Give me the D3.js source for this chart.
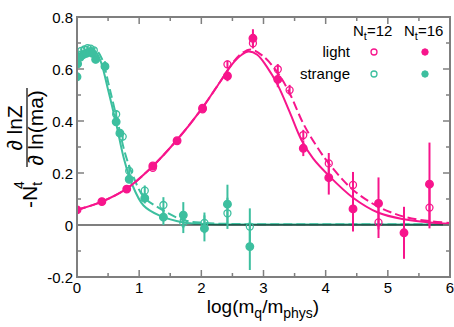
<!DOCTYPE html>
<html>
<head>
<meta charset="utf-8">
<script src="https://cdnjs.cloudflare.com/ajax/libs/d3/7.8.5/d3.min.js"></script>
<style>
body { margin: 0; background: #fff; }
text { font-family: "Liberation Sans", Arial, sans-serif; }
</style>
</head>
<body>
<div id="chart"></div>
<script>
var width = 454;
var height = 327;

var pink = "#f7158c";
var teal = "#3dbf9f";

// light quark, Nt=16 (filled)
var light16X = [0, 0.4, 0.8, 1.22, 1.61, 2.02, 2.42, 2.83, 3.23, 3.64, 4.05, 4.44, 4.85, 5.26, 5.67];
var light16Y = [0.058, 0.09, 0.138, 0.227, 0.324, 0.449, 0.573, 0.718, 0.56, 0.295, 0.182, 0.062, 0.083, -0.03, 0.157];
var light16E = [0.004, 0.004, 0.006, 0.008, 0.008, 0.01, 0.02, 0.035, 0.03, 0.03, 0.065, 0.087, 0.1, 0.1, 0.16];

// light quark, Nt=12 (open)
var light12X = [1.22, 2.02, 2.42, 2.83, 3.23, 3.42, 3.64, 4.05, 4.44, 4.85, 5.67];
var light12Y = [0.22, 0.445, 0.618, 0.699, 0.599, 0.519, 0.346, 0.237, 0.154, 0.01, 0.067];
var light12E = [0.008, 0.01, 0.015, 0.02, 0.02, 0.02, 0.02, 0.04, 0.05, 0.06, 0.08];

// strange quark, Nt=16 (filled)
var strange16X = [0, 0.01, 0.05, 0.1, 0.15, 0.2, 0.25, 0.3, 0.45, 0.63, 0.69, 0.84, 1.09, 1.39, 1.71, 2.05, 2.42, 2.78];
var strange16Y = [0.57, 0.62, 0.645, 0.655, 0.66, 0.665, 0.66, 0.637, 0.61, 0.397, 0.353, 0.176, 0.103, 0.03, 0.038, -0.013, 0.08, -0.083];
var strange16E = [0.015, 0.015, 0.01, 0.01, 0.01, 0.01, 0.01, 0.015, 0.02, 0.015, 0.015, 0.015, 0.02, 0.03, 0.05, 0.05, 0.075, 0.09];

// strange quark, Nt=12 (open)
var strange12X = [0.02, 0.07, 0.12, 0.17, 0.22, 0.27, 0.63, 0.735, 0.84, 1.09, 1.39, 1.71, 2.05, 2.42, 2.78];
var strange12Y = [0.655, 0.67, 0.675, 0.68, 0.678, 0.672, 0.426, 0.34, 0.208, 0.132, 0.077, 0.009, 0.008, 0.045, -0.006];
var strange12E = [0.01, 0.01, 0.01, 0.01, 0.01, 0.01, 0.015, 0.015, 0.02, 0.02, 0.03, 0.04, 0.04, 0.06, 0.07];

// fit curves
var lightFit16X = [0, 0.4, 0.8, 1.2, 1.6, 2.0, 2.3, 2.5, 2.65, 2.76, 2.9, 3.05, 3.23, 3.42, 3.61, 3.8, 4.05, 4.44, 4.85, 5.26, 5.67, 6];
var lightFit16Y = [0.058, 0.09, 0.14, 0.222, 0.325, 0.445, 0.55, 0.62, 0.655, 0.667, 0.655, 0.61, 0.538, 0.435, 0.327, 0.255, 0.19, 0.105, 0.047, 0.022, 0.01, 0.005];
var lightFit12X = [0, 0.4, 0.8, 1.2, 1.6, 2.0, 2.3, 2.5, 2.65, 2.8, 3.0, 3.23, 3.42, 3.64, 3.85, 4.05, 4.44, 4.85, 5.26, 5.67, 6];
var lightFit12Y = [0.058, 0.09, 0.14, 0.222, 0.325, 0.445, 0.55, 0.622, 0.66, 0.675, 0.648, 0.585, 0.507, 0.39, 0.305, 0.237, 0.135, 0.07, 0.032, 0.015, 0.008];
var strangeFit16X = [0, 0.1, 0.2, 0.3, 0.38, 0.5, 0.63, 0.75, 0.88, 1.07, 1.33, 1.71, 2.05, 2.5, 3, 6];
var strangeFit16Y = [0.635, 0.66, 0.672, 0.665, 0.63, 0.52, 0.39, 0.26, 0.16, 0.075, 0.036, 0.01, 0.004, 0.002, 0.002, 0.002];
var strangeFit12X = [0, 0.1, 0.2, 0.3, 0.4, 0.52, 0.65, 0.78, 0.9, 1.07, 1.33, 1.71, 2.05, 2.5, 3, 6];
var strangeFit12Y = [0.645, 0.67, 0.68, 0.675, 0.64, 0.53, 0.4, 0.27, 0.19, 0.109, 0.064, 0.019, 0.008, 0.004, 0.003, 0.003];

var xTicks = [0, 1, 2, 3, 4, 5, 6];
var yTicks = [-0.2, 0, 0.2, 0.4, 0.6, 0.8];
var yTickLabels = ["-0.2", "0", "0.2", "0.4", "0.6", "0.8"];

var x = d3.scaleLinear().domain([0, 6]).range([77, 450]);
var y = d3.scaleLinear().domain([-0.2, 0.8]).range([277, 17]);

var svg = d3.select("#chart").append("svg")
	.attr("width", width)
	.attr("height", height);

svg.append("defs").append("clipPath").attr("id", "clip")
	.append("rect")
	.attr("x", 77).attr("y", 17)
	.attr("width", 373).attr("height", 260);

function zip(xs, ys) {
	return xs.map(function(v, i) { return [v, ys[i]]; });
}

var line = d3.line()
	.x(function(d) { return x(d[0]); })
	.y(function(d) { return y(d[1]); })
	.curve(d3.curveCatmullRom);

var plot = svg.append("g").attr("clip-path", "url(#clip)");

function drawFit(xs, ys, colour, dashed) {
	plot.append("path")
		.datum(zip(xs, ys))
		.attr("d", line)
		.attr("fill", "none")
		.attr("stroke", colour)
		.attr("stroke-width", 2)
		.attr("stroke-dasharray", dashed ? "9,4" : null);
}

drawFit(strangeFit16X, strangeFit16Y, teal, false);
drawFit(strangeFit12X, strangeFit12Y, teal, true);
drawFit(lightFit16X, lightFit16Y, pink, false);
drawFit(lightFit12X, lightFit12Y, pink, true);

// zero line
plot.append("line")
	.attr("x1", x(0)).attr("x2", x(6))
	.attr("y1", y(0)).attr("y2", y(0))
	.attr("stroke", "#000")
	.attr("stroke-width", 1.2);

function drawPoints(xs, ys, es, colour, filled) {
	var data = xs.map(function(v, i) { return {x: v, y: ys[i], e: es[i]}; });
	var g = plot.append("g");
	g.selectAll("line")
		.data(data)
		.enter().append("line")
		.attr("x1", function(d) { return x(d.x); })
		.attr("x2", function(d) { return x(d.x); })
		.attr("y1", function(d) { return y(d.y - d.e); })
		.attr("y2", function(d) { return y(d.y + d.e); })
		.attr("stroke", colour)
		.attr("stroke-width", 2);
	g.selectAll("circle")
		.data(data)
		.enter().append("circle")
		.attr("cx", function(d) { return x(d.x); })
		.attr("cy", function(d) { return y(d.y); })
		.attr("r", filled ? 3.8 : 3.5)
		.attr("fill", filled ? colour : "none")
		.attr("stroke", colour)
		.attr("stroke-width", 1.3);
}

drawPoints(strange12X, strange12Y, strange12E, teal, false);
drawPoints(strange16X, strange16Y, strange16E, teal, true);
drawPoints(light12X, light12Y, light12E, pink, false);
drawPoints(light16X, light16Y, light16E, pink, true);

// frame and ticks
var frameColour = "#7f7f7f";
svg.append("rect")
	.attr("x", 77).attr("y", 17)
	.attr("width", 373).attr("height", 260)
	.attr("fill", "none")
	.attr("stroke", frameColour)
	.attr("stroke-width", 2);

var xMinor = d3.range(0, 6.01, 0.5);
var yMinor = d3.range(-0.2, 0.801, 0.1);

xMinor.forEach(function(t) {
	var len = Math.abs(t - Math.round(t)) < 1e-6 ? 7 : 4;
	svg.append("line").attr("x1", x(t)).attr("x2", x(t))
		.attr("y1", 277).attr("y2", 277 - len)
		.attr("stroke", frameColour).attr("stroke-width", 1.5);
	svg.append("line").attr("x1", x(t)).attr("x2", x(t))
		.attr("y1", 17).attr("y2", 17 + len)
		.attr("stroke", frameColour).attr("stroke-width", 1.5);
});
yMinor.forEach(function(t) {
	var len = Math.abs(t * 5 - Math.round(t * 5)) < 1e-6 ? 7 : 4;
	svg.append("line").attr("x1", 77).attr("x2", 77 + len)
		.attr("y1", y(t)).attr("y2", y(t))
		.attr("stroke", frameColour).attr("stroke-width", 1.5);
	svg.append("line").attr("x1", 450).attr("x2", 450 - len)
		.attr("y1", y(t)).attr("y2", y(t))
		.attr("stroke", frameColour).attr("stroke-width", 1.5);
});

svg.selectAll(".xlab")
	.data(xTicks)
	.enter().append("text")
	.attr("class", "xlab")
	.attr("x", function(d) { return x(d); })
	.attr("y", 293)
	.attr("text-anchor", "middle")
	.style("font-size", "15px")
	.text(function(d) { return d; });

svg.selectAll(".ylab")
	.data(yTicks)
	.enter().append("text")
	.attr("class", "ylab")
	.attr("x", 73)
	.attr("y", function(d) { return y(d) + 5.5; })
	.attr("text-anchor", "end")
	.style("font-size", "15px")
	.text(function(d, i) { return yTickLabels[i]; });

// x axis title
var xt = svg.append("text")
	.attr("x", 263)
	.attr("y", 313)
	.attr("text-anchor", "middle")
	.style("font-size", "19px");
xt.append("tspan").text("log(m");
xt.append("tspan").attr("dy", 5).style("font-size", "14px").text("q");
xt.append("tspan").attr("dy", -5).text("/m");
xt.append("tspan").attr("dy", 5).style("font-size", "14px").text("phys");
xt.append("tspan").attr("dy", -5).text(")");

// y axis title
var yt = svg.append("g").attr("transform", "rotate(-90)");
var nt = yt.append("text")
	.attr("x", -208)
	.attr("y", 37)
	.style("font-size", "21px");
nt.append("tspan").text("-N");
nt.append("tspan").attr("dy", 5).style("font-size", "14px").text("t");
nt.append("tspan").attr("dx", -7).attr("dy", -18).style("font-size", "14px").text("4");

yt.append("text")
	.attr("x", -128)
	.attr("y", 22)
	.attr("text-anchor", "middle")
	.style("font-size", "21px")
	.text("\u2202 lnZ");
yt.append("line")
	.attr("x1", -167).attr("x2", -88)
	.attr("y1", 27).attr("y2", 27)
	.attr("stroke", "#000")
	.attr("stroke-width", 1.2);
yt.append("text")
	.attr("x", -128)
	.attr("y", 43)
	.attr("text-anchor", "middle")
	.style("font-size", "21px")
	.text("\u2202 ln(ma)");

// legend
function legendHead(px, label) {
	var t = svg.append("text")
		.attr("x", px)
		.attr("y", 36)
		.style("font-size", "15px");
	t.append("tspan").text("N");
	t.append("tspan").attr("dy", 4).style("font-size", "11px").text("t");
	t.append("tspan").attr("dy", -4).text(label);
}
legendHead(353, "=12");
legendHead(404, "=16");

var legendRows = ["light", "strange"];
var legendColours = [pink, teal];
var legendY = [52, 74];
legendRows.forEach(function(name, i) {
	svg.append("text")
		.attr("x", 350)
		.attr("y", legendY[i] + 5)
		.attr("text-anchor", "end")
		.style("font-size", "15px")
		.text(name);
	svg.append("circle")
		.attr("cx", 374).attr("cy", legendY[i]).attr("r", 3)
		.attr("fill", "none").attr("stroke", legendColours[i]).attr("stroke-width", 1.3);
	svg.append("circle")
		.attr("cx", 425).attr("cy", legendY[i]).attr("r", 3.2)
		.attr("fill", legendColours[i]).attr("stroke", legendColours[i]);
});
</script>
</body>
</html>
